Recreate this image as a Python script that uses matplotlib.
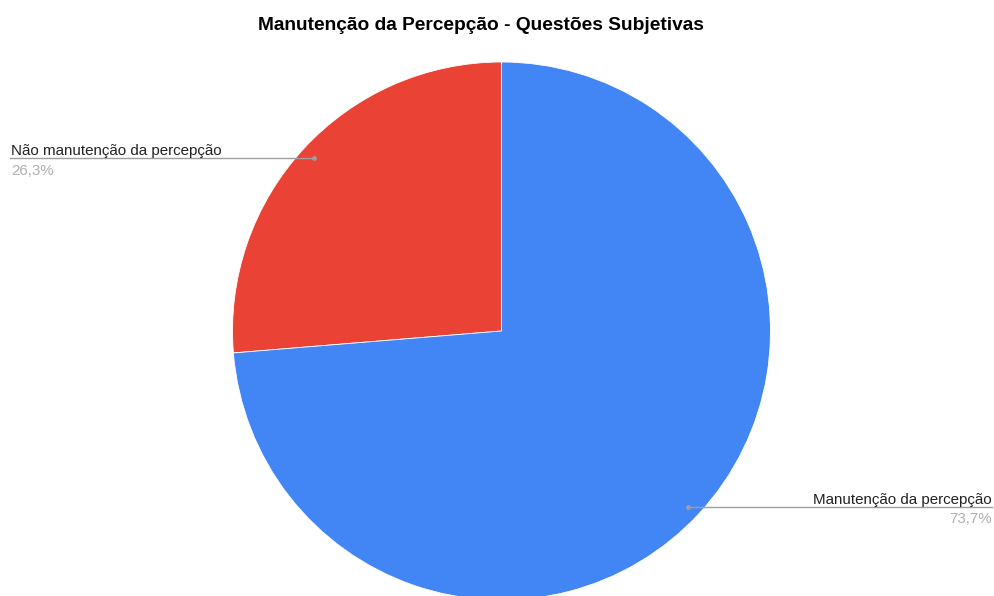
import matplotlib.pyplot as plt

# Dados do gráfico
categorias = ['Não manutenção da percepção', 'Manutenção da percepção']
percentuais = [26.3, 73.7]
rotulos_pct = ['26,3%', '73,7%']
cores = ['#EA4335', '#4285F4']

plt.rcParams['font.family'] = ['Liberation Sans', 'DejaVu Sans']

W, H = 994, 596
fig = plt.figure(figsize=(W / 100, H / 100), dpi=100)
ax = fig.add_axes([0, 0, 1, 1])

# pizza em coordenadas de pixel (y para cima)
cx, cy, r = 501.5, H - 331, 269
ax.pie(percentuais, colors=cores, startangle=90, counterclock=True,
       center=(cx, cy), radius=r, frame=True,
       wedgeprops=dict(edgecolor='white', linewidth=0.6))
ax.set_xlim(0, W)
ax.set_ylim(0, H)
ax.set_aspect('equal')
ax.axis('off')

ax.text(481, H - 25, 'Manutenção da Percepção - Questões Subjetivas',
        ha='center', va='center', fontsize=13.8, fontweight='bold', color='#000000')

# rótulos com linha de chamada
cinza = '#9e9e9e'
# esquerda
ax.plot([10, 314], [H - 158, H - 158], color=cinza, lw=1)
ax.plot(314, H - 158, 'o', color=cinza, ms=2.5)
ax.text(11, H - 155, categorias[0], ha='left', va='baseline',
        fontsize=10.9, color='#222222')
ax.text(11, H - 175, rotulos_pct[0], ha='left', va='baseline',
        fontsize=10.9, color='#b0b0b0')
# direita
ax.plot([688, 992], [H - 507, H - 507], color=cinza, lw=1)
ax.plot(688, H - 507, 'o', color=cinza, ms=2.5)
ax.text(992, H - 504, categorias[1], ha='right', va='baseline',
        fontsize=10.9, color='#222222')
ax.text(992, H - 523, rotulos_pct[1], ha='right', va='baseline',
        fontsize=10.9, color='#b0b0b0')

fig.savefig('out.png', dpi=100)
